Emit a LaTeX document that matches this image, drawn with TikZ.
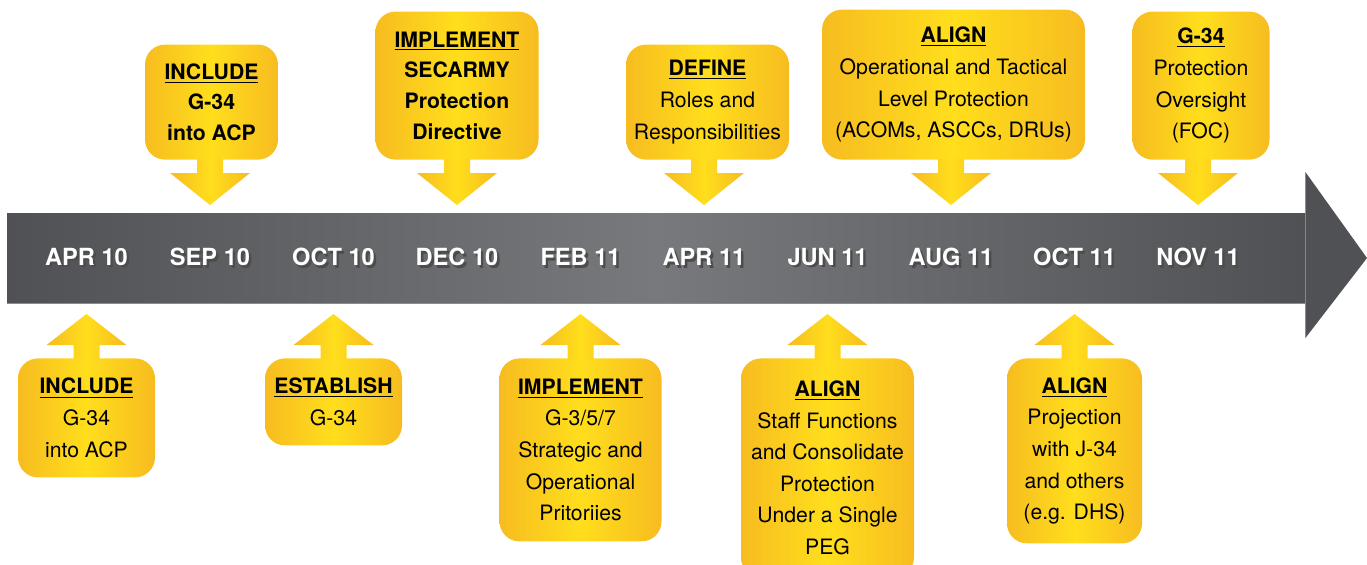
\documentclass[tikz,border=0pt]{standalone}
\usepackage{fontspec}
\setmainfont{TeX Gyre Heros}
\usetikzlibrary{shapes,fit,calc,positioning}
\definecolor{ylwedge}{RGB}{247,188,32}
\definecolor{ylwmid}{RGB}{255,222,28}
\definecolor{bardark}{RGB}{80,81,84}
\definecolor{barlight}{RGB}{120,121,124}
\newcommand{\hdr}[1]{\underline{\textbf{#1}}}
\newcommand{\shdw}[1]{\makebox[0pt][l]{\kern1.2pt\raisebox{-1.4pt}{\color{black!70}#1}}#1}
\tikzset{date/.style={text=white, inner sep=0pt, font=\fontsize{11.8}{14}\selectfont\bfseries}}
\tikzset{ylwarrow/.style={left color=ylwedge, right color=ylwedge, middle color=ylwmid}}
\tikzset{csize/.style 2 args={minimum width=#1*0.5pt, minimum height=#2*0.5pt}}
\tikzstyle{callout}=[ylwarrow, rounded corners=10pt, inner sep=0pt, align=center, font=\fontsize{10.6}{15.8}\selectfont]
\tikzstyle{hot}=[callout, font=\fontsize{10.6}{15.4}\selectfont\bfseries]

\begin{document}
\begin{tikzpicture}[x=0.5pt, y=-0.5pt, node distance=61.75pt]
\useasboundingbox (0,0) rectangle (1367,564);
% time line
\node[fit={(7,213) (1305,303)}, inner sep=0pt, left color=bardark, right color=bardark, middle color=barlight] (bar) {};
\coordinate (tip) at (1367,258);
\fill[bardark] (bar.north east) -- (bar.north east |- 0,172) -- (tip) -- (bar.south east |- 0,338) -- (bar.south east) -- cycle;
\draw[black!45, line width=0.6pt] (bar.south west) -- (bar.south east);

\node[date] (D0) at (86.5,258) {\shdw{APR 10}};
\node[date, right of=D0] (D1) {\shdw{SEP 10}};
\node[date, right of=D1] (D2) {\shdw{OCT 10}};
\node[date, right of=D2] (D3) {\shdw{DEC 10}};
\node[date, right of=D3] (D4) {\shdw{FEB 11}};
\node[date, right of=D4] (D5) {\shdw{APR 11}};
\node[date, right of=D5] (D6) {\shdw{JUN 11}};
\node[date, right of=D6] (D7) {\shdw{AUG 11}};
\node[date, right of=D7] (D8) {\shdw{OCT 11}};
\node[date, right of=D8] (D9) {\shdw{NOV 11}};

% above the line
\node[hot, csize={133}{115}, anchor=south] (T1) at ($(D1 |- 0,160)+(1.5,0)$) {\underline{INCLUDE}\\G-34\\into ACP};
\node[hot, csize={163}{148}, anchor=south] (T2) at (D3 |- 0,160) {\underline{IMPLEMENT}\\SECARMY\\Protection\\Directive};
\node[callout, csize={163}{115}, anchor=south] (T3) at ($(D5 |- 0,160)+(3.5,0)$) {\hdr{DEFINE}\\Roles and\\Responsibilities};
\node[callout, csize={263}{150}, anchor=south] (T4) at ($(D7 |- 0,160)+(2.5,0)$) {\hdr{ALIGN}\\Operational and Tactical\\Level Protection\\(ACOMs, ASCCs, DRUs)};
\node[callout, csize={137}{148}, anchor=south] (T5) at ($(D9 |- 0,160)+(3,0)$) {\hdr{G-34}\\Protection\\Oversight\\(FOC)};

% below the line
\node[callout, csize={137}{119}, anchor=north] (B1) at (D0 |- 0,358) {\hdr{INCLUDE}\\G-34\\into ACP};
\node[callout, csize={137}{87}, anchor=north] (B2) at (D2 |- 0,358) {\hdr{ESTABLISH}\\G-34};
\node[callout, csize={162}{183}, anchor=north] (B3) at (D4 |- 0,358) {\hdr{IMPLEMENT}\\G-3/5/7\\Strategic and\\Operational\\Pritoriies};
\node[callout, csize={173}{219}, anchor=north] (B4) at (D6 |- 0,358) {\hdr{ALIGN}\\Staff Functions\\and Consolidate\\Protection\\Under a Single\\PEG};
\node[callout, csize={135}{185}, anchor=north] (B5) at (D8 |- 0,358) {\hdr{ALIGN}\\Projection\\with J-34\\and others\\(e.g. DHS)};

\foreach \b/\d in {T1/D1,T2/D3,T3/D5,T4/D7,T5/D9}
  \shade[ylwarrow] (\d |- \b.south) ++(-13,-1) -- ++(0,14) -- ++(-27,0) -- (\d |- 0,205) -- ++(40,-32) -- ++(-27,0) -- ++(0,-14) -- cycle;
\foreach \b/\d in {B1/D0,B2/D2,B3/D4,B4/D6,B5/D8}
  \shade[ylwarrow] (\d |- \b.north) ++(-13,1) -- ++(0,-14) -- ++(-27,0) -- (\d |- 0,314) -- ++(40,31) -- ++(-27,0) -- ++(0,14) -- cycle;
\end{tikzpicture}
\end{document}
